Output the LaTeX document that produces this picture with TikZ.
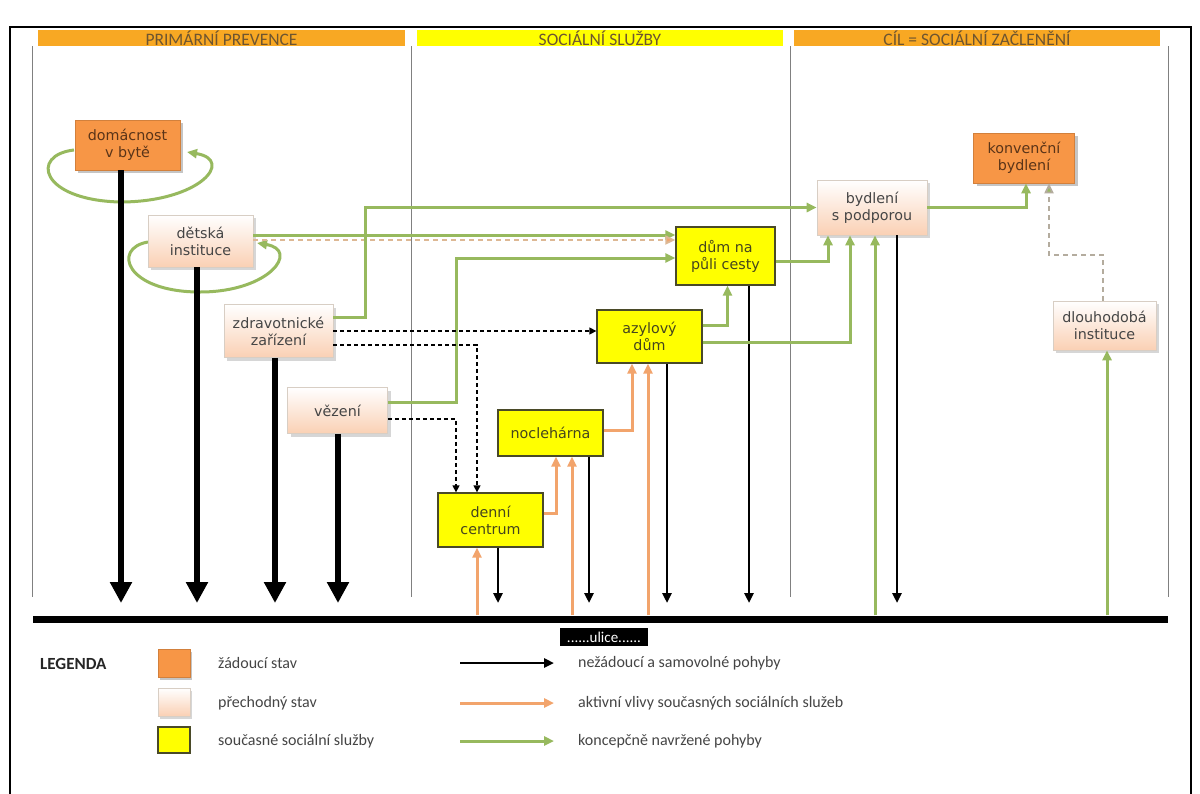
\documentclass[tikz,border=0pt]{standalone}
\usepackage{fontspec}
\setmainfont{DejaVu Sans}
\newfontfamily\legfont{Carlito}
\usetikzlibrary{arrows.meta,shadows,calc}
\definecolor{boxorange}{HTML}{F79646}
\definecolor{hdrorange}{HTML}{F8A823}
\definecolor{hdryellow}{HTML}{FFFF00}
\definecolor{peach}{HTML}{FAD0B4}
\definecolor{servyellow}{HTML}{FFFF00}
\definecolor{servborder}{HTML}{4A4A28}
\definecolor{transborder}{HTML}{D8CEC4}
\definecolor{gline}{HTML}{97B95E}
\definecolor{oline}{HTML}{F2A46C}
\definecolor{tanline}{HTML}{DDB894}
\definecolor{grayline}{HTML}{B4AC9E}
\definecolor{colgray}{HTML}{808080}
\definecolor{txtbrown}{HTML}{5A3418}
\definecolor{txtgray}{HTML}{454545}
\definecolor{txtolive}{HTML}{45451E}
\definecolor{hdrtext}{HTML}{6E5530}
\begin{document}
\begin{tikzpicture}[x=1pt,y=-1pt,
  box/.style={rectangle, align=center, inner sep=0pt, font=\fontsize{14.3}{17}\selectfont},
  want/.style={box, fill=boxorange, draw=boxorange!85!black, line width=0.6pt, text=txtbrown,
     drop shadow={shadow xshift=3pt, shadow yshift=-3pt, fill=black!45, opacity=0.5}},
  trans/.style={box, top color=white, bottom color=peach, draw=transborder, line width=0.6pt, text=txtgray,
     drop shadow={shadow xshift=3pt, shadow yshift=-3pt, fill=black!40, opacity=0.4}},
  serv/.style={box, fill=servyellow, draw=servborder, line width=1.3pt, text=txtolive},
  hdr/.style={rectangle, inner sep=0pt, minimum height=16pt, text=hdrtext, font=\legfont\fontsize{17.5}{16}\selectfont},
  colline/.style={draw=colgray, line width=0.9pt},
  bigarr/.style={line width=6pt, -{Triangle[width=21pt,length=21pt]}},
  blkarr/.style={line width=2.6pt, -{Triangle[width=9pt,length=10pt]}},
  oarr/.style={draw=oline, line width=3pt, -{Triangle[width=9pt,length=10pt]}},
  garr/.style={draw=gline, line width=3pt, -{Triangle[width=9pt,length=10pt]}},
  darr/.style={line width=1.3pt, dash pattern=on 4pt off 3pt, -{Triangle[width=7pt,length=7pt]}},
  tanarr/.style={draw=tanline, line width=1.8pt, dash pattern=on 5pt off 4pt, -{Triangle[width=9pt,length=10pt,fill=oline]}},
  grayarr/.style={draw=grayline, line width=1.8pt, dash pattern=on 5pt off 4pt, -{Triangle[width=9pt,length=10pt,fill=gline]}},
  legtxt/.style={anchor=west, inner sep=0pt, text=txtgray, font=\legfont\fontsize{16}{16}\selectfont}
]
\useasboundingbox (0,0) rectangle (1200,793);
\fill[white] (0,0) rectangle (1200,793);
\draw[line width=2pt] (10,800) -- (10,27) -- (1191,27) -- (1191,800);

% headers
\node[hdr, fill=hdrorange, minimum width=367pt] (h1) at (221.5,38) {PRIMÁRNÍ PREVENCE};
\node[hdr, fill=hdryellow, minimum width=366pt] (h2) at (600,38) {SOCIÁLNÍ SLUŽBY};
\node[hdr, fill=hdrorange, minimum width=366pt] (h3) at (977,38) {CÍL = SOCIÁLNÍ ZAČLENĚNÍ};

% column lines
\draw[colline] (32,46) -- (32,597);
\draw[colline] (411,46) -- (411,597);
\draw[colline] (790,46) -- (790,597);
\draw[colline] (1168,46) -- (1168,597);

% street line
\node[fill=black, minimum width=1135pt, minimum height=7pt, inner sep=0pt] (street) at (600.5,619) {};
\node[fill=black, text=white, font=\legfont\fontsize{15}{15}\selectfont, minimum width=88pt, minimum height=18pt, inner sep=0pt] (ulice) at (604,637) {......ulice......};

% self loops (drawn before boxes)
\draw[garr] (74,150) .. controls (30,155) and (40,200) .. (120,202) .. controls (200,202) and (235,160) .. (187,152);
\draw[garr] (148,242) .. controls (112,248) and (125,292) .. (200,292) .. controls (270,292) and (300,250) .. (257,243);

% nodes
\node[want, minimum width=105pt, minimum height=50pt] (dom) at (127.5,145) {domácnost\\v bytě};
\node[trans, minimum width=105pt, minimum height=52pt] (det) at (200.5,241) {dětská\\instituce};
\node[trans, minimum width=109pt, minimum height=53pt] (zdr) at (278.5,331) {zdravotnické\\zařízení};
\node[trans, minimum width=100pt, minimum height=46pt] (vez) at (337.5,410.5) {vězení};
\node[serv, minimum width=99pt, minimum height=58pt] (pul) at (725.5,256) {dům na\\půli cesty};
\node[serv, minimum width=105pt, minimum height=53pt] (azy) at (649.5,336.5) {azylový\\dům};
\node[serv, minimum width=105pt, minimum height=46pt] (noc) at (550.5,433) {noclehárna};
\node[serv, minimum width=105pt, minimum height=54pt] (den) at (490.5,520) {denní\\centrum};
\node[trans, minimum width=110pt, minimum height=55pt] (byd) at (872,207.5) {bydlení\\s podporou};
\node[want, minimum width=101pt, minimum height=50pt] (kon) at (1024,158) {konvenční\\bydlení};
\node[trans, minimum width=103pt, minimum height=49pt] (dlo) at (1104.5,325.5) {dlouhodobá\\instituce};

% arrow end coordinates near street
\coordinate (t1) at (121,603);
\coordinate (t2) at (197,603);
\coordinate (t3) at (275,603);
\coordinate (t4) at (338,603);
\coordinate (t5) at (498,603);
\coordinate (t6) at (589,603);
\coordinate (t7) at (667,603);
\coordinate (t8) at (749,603);
\coordinate (t9) at (897,603);

% black arrows
\draw[bigarr] (dom.south -| t1) -- (t1);
\draw[bigarr] (det.south -| t2) -- (t2);
\draw[bigarr] (zdr.south -| t3) -- (t3);
\draw[bigarr] (vez.south -| t4) -- (t4);
\draw[blkarr] (den.south -| t5) -- (t5);
\draw[blkarr] (noc.south -| t6) -- (t6);
\draw[blkarr] (azy.south -| t7) -- (t7);
\draw[blkarr] (pul.south -| t8) -- (t8);
\draw[blkarr] (byd.south -| t9) -- (t9);

% orange arrows
\coordinate (o1) at (477,0);
\coordinate (o2) at (572,0);
\coordinate (o3) at (648,0);
\draw[oarr] (street.north -| o1) -- (den.south -| o1);
\draw[oarr] (street.north -| o2) -- (noc.south -| o2);
\draw[oarr] (street.north -| o3) -- (azy.south -| o3);
\draw[oarr] ([yshift=7pt]den.east) -| ([xshift=5.5pt]noc.south);
\draw[oarr] ([yshift=3pt]noc.east) -| ([xshift=-17.5pt]azy.south);

% green arrows
\draw[garr] ([yshift=6pt]det.east) -- ([yshift=21pt]pul.west);
\draw[tanarr] ([yshift=1pt]det.east) -- ([yshift=16pt]pul.west);
\draw[garr] ([yshift=14pt]zdr.east) -| (365,207.5) -- (byd.west);
\draw[garr] ([yshift=8.5pt]vez.east) -| (456,258) -- ([yshift=-2pt]pul.west);
\draw[garr] ([yshift=11.5pt]azy.east) -| ([xshift=2pt]pul.south);
\draw[garr] ([yshift=-5.5pt]azy.east) -| ([xshift=-22pt]byd.south);
\draw[garr] ([yshift=-5pt]pul.east) -| ([xshift=-44pt]byd.south);
\coordinate (g1) at (875,0);
\coordinate (g2) at (1107,0);
\draw[garr] (street.north -| g1) -- (byd.south -| g1);
\draw[garr] (street.north -| g2) -- (dlo.south -| g2);
\draw[garr] (byd.east) -| ([xshift=2pt]kon.south);
\draw[grayarr] ([xshift=-1.5pt]dlo.north) -- (1103,255) -| ([xshift=25pt]kon.south);

% dashed black arrows
\draw[darr] (zdr.east) -- ([yshift=5.5pt]azy.west);
\draw[darr] ([yshift=-14pt]zdr.east) -| ([xshift=-13.5pt]den.north);
\draw[darr] ([yshift=-8.5pt]vez.east) -| ([xshift=-34.5pt]den.north);

% legend
\node[anchor=west, inner sep=0pt, text=black!85, font=\legfont\bfseries\fontsize{17}{17}\selectfont] (leg) at (40,664) {LEGENDA};
\node[rectangle, fill=boxorange, draw=boxorange!85!black, line width=0.6pt, minimum width=32pt, minimum height=28pt,
   drop shadow={shadow xshift=2pt, shadow yshift=-3pt, fill=black!45, opacity=0.5}] (s1) at (174,663) {};
\node[rectangle, top color=white, bottom color=peach, draw=transborder, line width=0.6pt, minimum width=32pt, minimum height=28pt,
   drop shadow={shadow xshift=2pt, shadow yshift=-3pt, fill=black!40, opacity=0.4}] (s2) at (174,702) {};
\node[rectangle, fill=servyellow, draw=servborder, line width=1.3pt, minimum width=32pt, minimum height=26pt] (s3) at (174,740) {};
\node[legtxt] (l1) at (218,663) {žádoucí stav};
\node[legtxt] (l2) at (218,703) {přechodný stav};
\node[legtxt] (l3) at (218,741) {současné sociální služby};
\coordinate (a1s) at (460,663); \coordinate (a1e) at (554,663);
\coordinate (a2s) at (460,703); \coordinate (a2e) at (554,703);
\coordinate (a3s) at (460,741); \coordinate (a3e) at (554,741);
\draw[blkarr] (a1s) -- (a1e);
\draw[oarr] (a2s) -- (a2e);
\draw[garr] (a3s) -- (a3e);
\node[legtxt] (m1) at (578,663) {nežádoucí a samovolné pohyby};
\node[legtxt] (m2) at (578,703) {aktivní vlivy současných sociálních služeb};
\node[legtxt] (m3) at (578,741) {koncepčně navržené pohyby};
\end{tikzpicture}
\end{document}
